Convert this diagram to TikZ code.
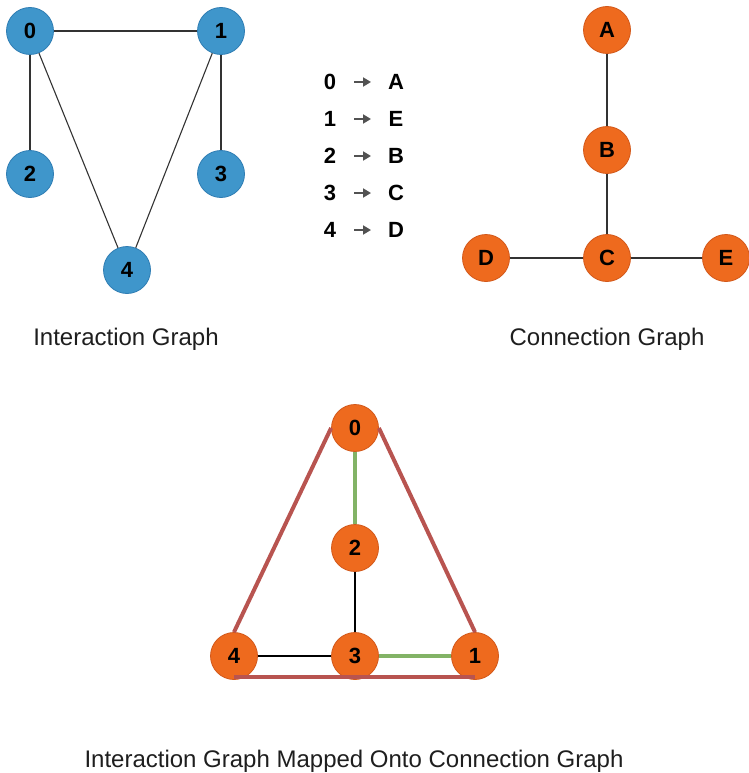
\documentclass[tikz,border=0pt]{standalone}
\usepackage{fontspec}
\setmainfont{Liberation Sans}
\usetikzlibrary{arrows.meta}
\definecolor{qblue}{HTML}{3F96CB}
\definecolor{qblueline}{HTML}{2F7DB3}
\definecolor{qorange}{HTML}{EE6A1E}
\definecolor{qorangeline}{HTML}{D2581A}
\definecolor{qred}{HTML}{B85450}
\definecolor{qgreen}{HTML}{82B366}
\definecolor{qedge}{HTML}{333333}
\definecolor{qtext}{HTML}{1E1E1E}
\tikzset{
  qnode/.style={circle, minimum size=47pt, inner sep=0pt, line width=0.8pt,
    font=\fontsize{22}{22}\selectfont\bfseries},
  bluenode/.style={qnode, fill=qblue, draw=qblueline},
  orangenode/.style={qnode, fill=qorange, draw=qorangeline},
  edge/.style={draw=qedge, line width=1.1pt},
  redlink/.style={draw=qred, line width=4pt},
  greenlink/.style={draw=qgreen, line width=3.5pt},
  maptext/.style={font=\fontsize{22}{22}\selectfont\bfseries, inner sep=0pt},
  maparrow/.style={draw=qedge!85, line width=1.8pt, -{Triangle[length=8pt,width=9pt]}},
  caption/.style={font=\fontsize{24}{24}\selectfont, text=qtext, inner sep=0pt, anchor=base}
}
\begin{document}
\begin{tikzpicture}[x=1pt, y=-1pt]
\useasboundingbox (0,0) rectangle (748,773);

% interaction graph
\node[bluenode] (i0) at (30,31) {0};
\node[bluenode] (i1) at (221,31) {1};
\node[bluenode] (i2) at (30,174) {2};
\node[bluenode] (i3) at (221,174) {3};
\node[bluenode] (i4) at (127,270) {4};
\draw[edge] (i0) -- (i1);
\draw[edge] (i0) -- (i2);
\draw[edge] (i1) -- (i3);
\draw[edge] (i0) -- (i4);
\draw[edge] (i1) -- (i4);
\node[caption] (icap) at (126,345) {Interaction Graph};

% mapping table
\foreach \n/\l [count=\k from 0] in {0/A,1/E,2/B,3/C,4/D} {
  \node[maptext] (m\k) at (330,{82+37*\k}) {\n};
  \node[maptext] (t\k) at (396,{82+37*\k}) {\l};
  \coordinate (ma\k) at (354,{82+37*\k});
  \coordinate (mb\k) at (371,{82+37*\k});
  \draw[maparrow] (ma\k) -- (mb\k);
}

% connection graph
\node[orangenode] (cA) at (607,30) {A};
\node[orangenode] (cB) at (607,150) {B};
\node[orangenode] (cC) at (607,258) {C};
\node[orangenode] (cD) at (486,258) {D};
\node[orangenode] (cE) at (726,258) {E};
\draw[edge] (cA) -- (cB);
\draw[edge] (cB) -- (cC);
\draw[edge] (cD) -- (cC);
\draw[edge] (cC) -- (cE);
\node[caption] (ccap) at (607,345) {Connection Graph};

% mapped graph
\node[orangenode] (p0) at (355,428) {0};
\node[orangenode] (p2) at (355,548) {2};
\node[orangenode] (p3) at (355,656) {3};
\node[orangenode] (p4) at (234,656) {4};
\node[orangenode] (p1) at (475,656) {1};
\draw[greenlink] (p0) -- (p2);
\draw[greenlink] (p3) -- (p1);
\draw[edge, draw=black] (p2) -- (p3);
\draw[edge, draw=black] (p4) -- (p3);
\draw[redlink] (p0.west) -- (p4.north);
\draw[redlink] (p0.east) -- (p1.north);
\draw[redlink] ([yshift=3pt]p4.south) -- ([yshift=3pt]p1.south);
\node[caption] (pcap) at (354,767) {Interaction Graph Mapped Onto Connection Graph};
\end{tikzpicture}
\end{document}
